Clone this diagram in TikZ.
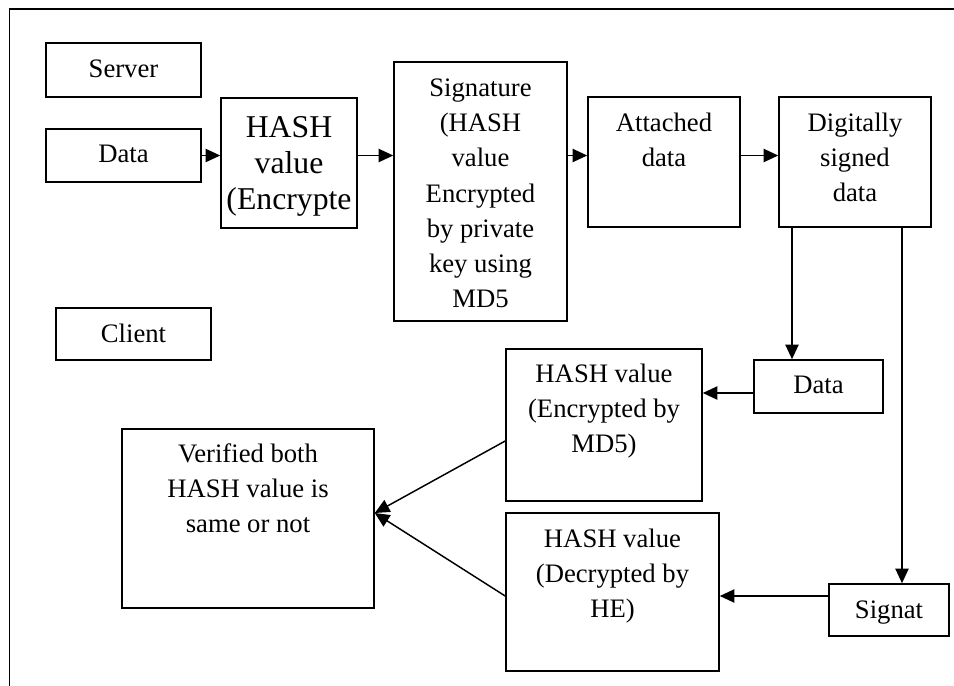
\documentclass[tikz,border=0pt]{standalone}
\usepackage{fontspec}
\setmainfont{Liberation Serif}
\usetikzlibrary{arrows.meta,fit,calc}

\begin{document}
\begin{tikzpicture}[x=0.75pt,y=-0.75pt]
\tikzset{
  box/.style={draw, line width=1.2pt, inner sep=0pt},
  % text hangs from its top; each first line starts with \strut
  boxtext/.style={anchor=north, align=center, inner sep=0pt,
                  font=\fontsize{20}{26.4}\selectfont},
  bigtext/.style={boxtext, font=\fontsize{23.8}{27}\selectfont},
  arr/.style={line width=1.1pt, -{Triangle[length=11pt,width=10pt]}},
  frame/.style={line width=1.4pt},
}
\useasboundingbox (0,0) rectangle (954,686);

% open frame: top and left edges only
\draw[frame] (9.5,686) -- (9.5,9) -- (954,9);

% server side
\node[box, fit={(46,43) (201,97)}]    (server) {};
\node[box, fit={(46,129) (201,182)}]  (data1)  {};
\node[box, fit={(221,98) (357,228)}]  (hash1)  {};
\node[box, fit={(394,62) (567,321)}]  (sig)    {};
\node[box, fit={(588,97) (740,227)}]  (att)    {};
\node[box, fit={(779,97) (931,227)}]  (dsig)   {};

% client side
\node[box, fit={(56,308) (211,360)}]  (client) {};
\node[box, fit={(754,360) (883,413)}] (data2)  {};
\node[box, fit={(506,349) (702,501)}] (hmd5)   {};
\node[box, fit={(506,513) (719,671)}] (hhe)    {};
\node[box, fit={(829,584) (949,636)}] (signat) {};
\node[box, fit={(122,429) (374,608)}] (verif)  {};

% box texts (strut top sits about 10px below the box top)
\node[boxtext] (server-t) at ($(server.north)+(0,10.4)$) {\strut Server};
\node[boxtext] (data1-t)  at ($(data1.north)+(0,9.4)$)   {\strut Data};
\node[bigtext] (hash1-t)  at ($(hash1.north)+(0,14.8)$)  {\strut HASH\\value\\(Encrypte};
\node[boxtext] (sig-t)    at ($(sig.north)+(0,10.4)$)    {\strut Signature\\(HASH\\value\\Encrypted\\by private\\key using\\MD5};
\node[boxtext] (att-t)    at ($(att.north)+(0,10.4)$)    {\strut Attached\\data};
\node[boxtext] (dsig-t)   at ($(dsig.north)+(0,10.4)$)   {\strut Digitally\\signed\\data};
\node[boxtext] (client-t) at ($(client.north)+(0,10.4)$) {\strut Client};
\node[boxtext] (data2-t)  at ($(data2.north)+(0,9.4)$)   {\strut Data};
\node[boxtext] (hmd5-t)   at ($(hmd5.north)+(0,9.4)$)    {\strut HASH value\\(Encrypted by\\MD5)};
\node[boxtext] (hhe-t)    at ($(hhe.north)+(0,10.4)$)    {\strut HASH value\\(Decrypted by\\HE)};
\node[boxtext] (signat-t) at ($(signat.north)+(0,10.4)$) {\strut Signat};
\node[boxtext] (verif-t)  at ($(verif.north)+(0,9.4)$)   {\strut Verified both\\HASH value is\\same or not};

% connector positions
\coordinate (xa) at (792,0);
\coordinate (xb) at (902,0);
\coordinate (ya) at (0,393);
\coordinate (yb) at (0,596);
\coordinate (yc) at (0,441);
\coordinate (yd) at (0,513);

% signing chain
\draw[arr] (data1.east) -- (data1.east -| hash1.west);
\draw[arr] (hash1.east |- data1.east) -- (sig.west |- data1.east);
\draw[arr] (sig.east |- data1.east) -- (att.west |- data1.east);
\draw[arr] (att.east |- data1.east) -- (dsig.west |- data1.east);

% splitting the signed data
\draw[arr] (dsig.south -| xa) -- (data2.north -| xa);
\draw[arr] (dsig.south -| xb) -- (signat.north -| xb);
\draw[arr] (data2.west |- ya) -- (hmd5.east |- ya);
\draw[arr] (signat.west |- yb) -- (hhe.east |- yb);

% verification
\draw[arr] (hmd5.west |- yc) -- (verif.east |- yd);
\draw[arr] (hhe.west |- yb) -- (verif.east |- yd);
\end{tikzpicture}
\end{document}
